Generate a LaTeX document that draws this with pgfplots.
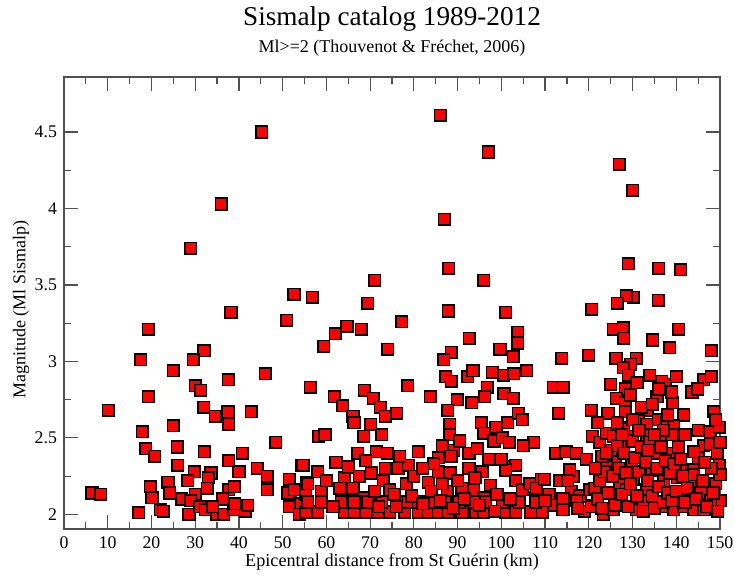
\documentclass[border=0pt]{standalone}
\usepackage{fontspec}
\setmainfont{Liberation Serif}
\usepackage{pgfplots}
\pgfplotsset{compat=1.18}
\definecolor{cAxis}{HTML}{505050}

\pgfplotstableread{
km mag
45.2 4.50
86.0 4.61
97.0 4.37
127.0 4.29
130.0 4.12
36.0 4.03
87.0 3.93
29.0 3.74
129.0 3.64
88.0 3.61
136.0 3.61
141.0 3.60
71.0 3.53
96.0 3.53
52.6 3.44
56.8 3.42
38.2 3.32
50.9 3.27
19.3 3.21
17.5 3.01
32.0 3.07
29.6 3.01
25.0 2.94
46.0 2.92
37.6 2.88
30.0 2.84
31.3 2.81
56.3 2.83
19.3 2.77
10.1 2.68
31.9 2.70
34.6 2.64
37.5 2.67
37.7 2.59
42.8 2.67
25.0 2.58
17.9 2.54
48.4 2.47
18.7 2.43
20.7 2.38
25.9 2.44
26.0 2.32
32.1 2.41
40.8 2.40
37.7 2.35
54.4 2.32
29.8 2.28
33.6 2.27
33.0 2.24
40.0 2.28
44.2 2.30
46.5 2.25
46.5 2.16
51.5 2.23
55.4 2.21
19.7 2.18
20.1 2.11
23.8 2.21
24.2 2.14
28.3 2.22
30.0 2.13
32.8 2.17
26.9 2.10
29.0 2.09
37.7 2.16
38.9 2.18
36.3 2.10
6.4 2.14
8.4 2.13
17.1 2.01
22.0 2.03
22.7 2.02
28.6 2.00
31.1 2.05
32.3 2.03
35.0 2.00
36.5 2.00
38.8 2.03
41.5 2.02
34.0 2.05
39.0 2.07
42.0 2.06
51.8 2.08
51.5 2.05
54.1 2.07
53.8 2.00
55.3 2.13
51.2 2.14
52.7 2.16
69.4 3.38
87.9 3.33
101.0 3.32
77.2 3.26
62.0 3.18
64.7 3.23
68.0 3.21
59.4 3.10
92.7 3.15
103.7 3.19
103.7 3.12
74.0 3.08
88.6 3.06
86.8 3.01
99.7 3.08
102.7 3.03
78.6 2.84
87.3 2.90
88.6 2.87
92.3 2.90
93.5 2.94
97.9 2.93
100.5 2.91
102.8 2.92
105.8 2.94
96.8 2.83
96.2 2.77
100.6 2.79
102.7 2.76
61.8 2.77
63.7 2.71
66.1 2.64
66.3 2.60
68.7 2.81
70.7 2.76
72.3 2.70
73.5 2.64
76.1 2.66
83.8 2.77
89.9 2.75
93.2 2.73
87.7 2.68
88.2 2.59
88.2 2.52
95.4 2.60
98.8 2.57
101.5 2.60
103.9 2.66
104.8 2.62
70.1 2.59
58.2 2.51
59.7 2.52
68.5 2.51
72.6 2.52
107.4 2.47
96.0 2.53
98.3 2.48
100.2 2.50
101.8 2.47
67.2 2.40
71.4 2.41
73.9 2.40
81.0 2.41
85.6 2.37
89.1 2.42
92.6 2.40
97.2 2.36
101.0 2.31
103.3 2.32
62.2 2.34
64.1 2.24
66.1 2.17
68.7 2.11
70.3 2.27
73.0 2.22
74.5 2.16
76.4 2.30
78.3 2.20
78.7 2.32
83.3 2.21
85.6 2.28
88.3 2.27
87.6 2.15
91.0 2.17
92.6 2.30
95.6 2.28
93.7 2.16
96.0 2.11
101.0 2.29
103.3 2.22
104.8 2.16
107.9 2.11
109.1 2.23
54.7 2.32
58.0 2.28
58.8 2.15
55.7 2.20
55.3 2.015
58.0 2.015
64.1 2.015
66.4 2.015
69.1 2.015
71.8 2.015
74.5 2.015
77.9 2.015
81.0 2.015
83.3 2.015
85.6 2.015
87.9 2.015
91.0 2.015
94.1 2.015
96.0 2.015
101.0 2.015
103.3 2.015
106.8 2.015
109.4 2.015
55.7 2.08
58.8 2.08
63.4 2.08
66.4 2.08
69.5 2.08
72.6 2.08
76.4 2.08
78.7 2.08
81.0 2.08
84.9 2.08
87.2 2.08
90.3 2.08
93.7 2.08
96.4 2.08
100.2 2.08
104.1 2.08
107.9 2.08
60.0 2.22
61.5 2.05
63.0 2.17
65.0 2.31
67.5 2.25
69.0 2.35
71.0 2.15
72.0 2.05
73.5 2.30
75.5 2.13
76.8 2.38
76.0 2.05
79.5 2.12
80.0 2.25
82.0 2.07
84.0 2.15
86.0 2.09
89.0 2.04
90.0 2.22
91.5 2.10
94.0 2.24
95.0 2.06
97.5 2.19
98.5 2.02
99.0 2.13
100.0 2.36
102.0 2.10
84.5 2.33
86.5 2.45
88.5 2.38
90.5 2.48
94.5 2.43
86.5 2.20
82.0 2.30
105.0 2.45
106.5 2.20
108.0 2.17
111.0 2.13
112.0 2.06
116.0 2.15
118.0 2.12
119.0 2.02
112.5 2.40
116.5 2.25
130.2 3.42
128.6 3.43
126.5 3.38
135.9 3.40
120.7 3.34
125.6 3.21
127.9 3.22
128.0 3.15
140.6 3.21
134.6 3.14
138.5 3.09
148.0 3.07
113.8 3.02
120.0 3.04
126.2 3.02
130.9 3.02
129.6 2.98
127.9 2.96
129.0 2.91
133.9 2.91
137.5 2.85
140.0 2.90
136.7 2.87
146.3 2.88
148.0 2.90
143.6 2.80
144.9 2.82
111.9 2.83
114.2 2.83
128.3 2.82
126.3 2.76
128.3 2.73
135.6 2.77
139.2 2.73
113.1 2.66
120.6 2.68
124.4 2.66
128.3 2.67
133.4 2.68
141.7 2.65
148.6 2.67
127.0 2.57
131.3 2.61
133.2 2.59
135.9 2.62
137.8 2.60
139.4 2.58
147.8 2.54
149.8 2.57
120.8 2.51
122.5 2.47
127.1 2.46
129.8 2.51
133.2 2.52
136.7 2.52
139.0 2.52
146.3 2.45
147.8 2.46
149.4 2.40
114.8 2.41
117.1 2.40
119.4 2.36
124.0 2.53
125.6 2.51
126.0 2.34
129.8 2.34
135.6 2.40
139.0 2.40
142.5 2.29
144.0 2.29
149.8 2.32
115.6 2.29
113.3 2.22
115.2 2.22
120.2 2.16
121.4 2.17
124.0 2.31
134.4 2.29
140.2 2.24
130.2 2.23
127.1 2.20
133.2 2.16
137.1 2.22
143.2 2.20
147.1 2.15
149.0 2.20
150.0 2.26
109.8 2.23
110.0 2.09
114.1 2.10
117.2 2.09
121.0 2.06
114.1 2.03
117.5 2.04
120.6 2.05
123.3 2.00
126.4 2.11
125.6 2.03
130.9 2.03
134.0 2.09
137.1 2.05
139.4 2.03
141.7 2.05
144.0 2.03
146.3 2.03
149.0 2.03
150.0 2.09
128.6 2.16
132.5 2.09
143.3 2.11
145.6 2.14
147.9 2.09
122.0 2.10
122.5 2.22
123.0 2.38
123.5 2.28
124.5 2.14
125.0 2.42
125.5 2.25
126.0 2.06
126.5 2.45
127.0 2.30
127.5 2.13
128.0 2.40
128.5 2.27
129.0 2.05
129.5 2.20
130.0 2.48
130.5 2.37
131.0 2.12
131.5 2.28
132.0 2.44
132.5 2.02
133.0 2.34
133.5 2.22
134.0 2.47
134.5 2.12
135.0 2.04
135.5 2.30
136.0 2.18
136.5 2.44
137.0 2.08
137.5 2.35
138.0 2.14
138.5 2.27
139.0 2.09
139.5 2.33
140.0 2.15
141.0 2.36
142.0 2.08
142.5 2.17
143.5 2.26
144.5 2.10
145.0 2.37
146.0 2.22
147.0 2.05
148.0 2.30
148.5 2.14
149.5 2.02
150.0 2.47
128.0 2.56
130.0 2.62
132.0 2.70
126.5 2.60
129.5 2.78
131.0 2.86
134.5 2.72
136.0 2.82
138.0 2.65
125.0 2.85
122.0 2.60
124.0 2.40
121.5 2.30
123.0 2.04
127.5 2.52
131.5 2.55
133.5 2.42
137.0 2.55
140.5 2.44
142.0 2.52
144.0 2.41
146.5 2.34
149.0 2.62
145.0 2.55
139.0 2.80
141.5 2.25
135.0 2.52
}\quakes

\begin{document}
\begin{tikzpicture}
\begin{axis}[
  scale only axis,
  width=328pt, height=226pt,
  xmin=0, xmax=150, ymin=1.904, ymax=4.86,
  xtick={0,10,...,150},
  ytick={2,2.5,3,3.5,4,4.5},
  minor x tick num=1, minor y tick num=1,
  tick align=inside,
  major tick length=7pt, minor tick length=3.5pt,
  axis line style={cAxis, line width=0.7pt},
  every tick/.style={cAxis, line width=0.6pt},
  /pgf/number format/assume math mode=true,
  ticklabel style={font=\fontsize{8.9}{10}\selectfont},
  xticklabel style={anchor=base, yshift=-9.5pt},
  xlabel={Epicentral distance from St Guérin (km)},
  ylabel={Magnitude (Ml Sismalp)},
  xlabel style={font=\fontsize{9.1}{11}\selectfont, anchor=base,
    at={(axis description cs:0.5,-0.0819)}},
  ylabel style={font=\fontsize{9}{10}\selectfont, anchor=center,
    at={(axis description cs:-0.0655,0.485)}},
  clip=false,
]
\addplot[only marks, mark=square*, mark size=2.9pt,
  mark options={fill=red, draw=black, line width=0.8pt}] table[x=km, y=mag] {\quakes};
\end{axis}
\node[anchor=base, font=\fontsize{13.6}{15}\selectfont] at ([yshift=25.5pt]current axis.north) {Sismalp catalog 1989-2012};
\node[anchor=base, font=\fontsize{9}{10}\selectfont] at ([yshift=12pt]current axis.north) {Ml>=2 (Thouvenot \& Fréchet, 2006)};
\pgfresetboundingbox
\path ([xshift=-32pt,yshift=-23.5pt]current axis.south west) rectangle ([xshift=7pt,yshift=38.5pt]current axis.north east);
\end{tikzpicture}
\end{document}
